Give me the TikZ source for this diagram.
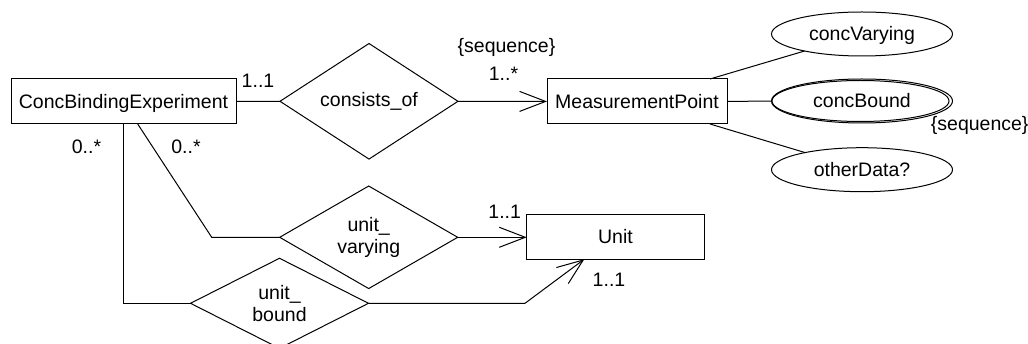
\documentclass[tikz,border=0pt]{standalone}
\usepackage{fontspec}
\setmainfont{Liberation Sans}
\usetikzlibrary{shapes.geometric,arrows.meta,calc}

\begin{document}
\begin{tikzpicture}[x=1pt,y=-1pt, line width=1pt,
  every node/.style={inner sep=0pt, outer sep=0pt, font=\fontsize{19.5}{21.5}\selectfont},
  entity/.style={draw, rectangle, minimum height=45pt, text height=14pt, text depth=0pt},
  relation/.style={draw, diamond, minimum width=178pt, minimum height=89pt, align=center},
  attr/.style={draw, ellipse, minimum width=181pt, minimum height=44pt, text height=14pt, text depth=0pt},
  card/.style={anchor=base},
  tip/.style={-{Straight Barb[length=26pt,width=20pt]}}
]
\useasboundingbox (0,0) rectangle (1028,344);

% entities
\node[entity, minimum width=225pt] (cbe) at (123.5,101.5) {ConcBindingExperiment};
\node[entity, minimum width=180pt] (mp) at (637,101.5) {MeasurementPoint};
\node[entity, minimum width=177.6pt] (unit) at (615.5,236.7) {Unit};

% relationships
\node[relation] (cons) at (369,101.3) {consists\_of};
\node[relation] (uv) at (368.7,237.3) {unit\_\\varying};
\node[relation] (ub) at (279.5,303.3) {unit\_\\bound};

% attributes
\node[attr] (cv) at (862,34) {concVarying};
\node[attr] (cb) at (862,101) {concBound};
\node[draw, ellipse, minimum width=177pt, minimum height=41pt] (cbi) at (860.5,101) {};
\node[attr] (od) at (862,169.7) {otherData?};

% connectors
\draw (cbe) -- (cons);
\draw[tip] (cons) -- (mp);
\draw (mp) -- (cb);
\draw ([xshift=-17pt]mp.north east) -- (cv);
\draw ([xshift=-17pt]mp.south east) -- (od);

\draw (cbe.south) |- (ub.west);
\coordinate (kv) at (211.7,237.3);
\draw ([xshift=14.2pt]cbe.south) -- (kv) -- (uv.west);
\draw[tip] (uv.east) -- (uv.east -| unit.west);
\coordinate (kb) at (525,303.3);
\draw[tip] (ub.east) -- (kb) -- ([xshift=57.6pt]unit.south west);

% cardinalities and constraints
\node[card] (m1) at (258,87.3) {1..1};
\node[card] (s1) at (506.5,52.5) {\{sequence\}};
\node[card] (m2) at (503.5,80.7) {1..*};
\node[card] (m3) at (86.5,154) {0..*};
\node[card] (m4) at (186,154) {0..*};
\node[card] (m5) at (504.7,219) {1..1};
\node[card] (m6) at (609,286.7) {1..1};
\node[card] (s2) at (979.7,130.5) {\{sequence\}};
\end{tikzpicture}
\end{document}
